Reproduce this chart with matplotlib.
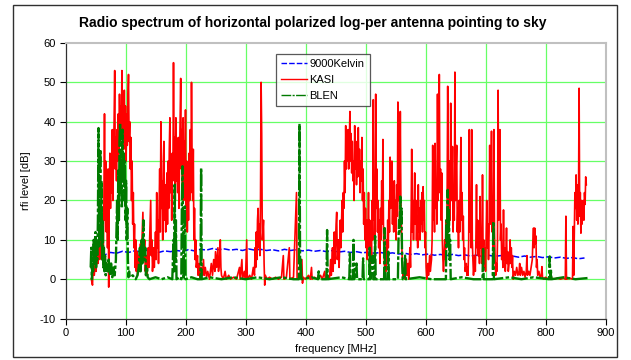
import matplotlib
matplotlib.use("Agg")
import matplotlib.pyplot as plt
from matplotlib.patches import Rectangle

plt.rcParams['font.family'] = ['Liberation Sans', 'DejaVu Sans']
plt.rcParams['axes.unicode_minus'] = False

title = "Radio spectrum of horizontal polarized log-per antenna pointing to sky"
x_label = "frequency [MHz]"
y_label = "rfi level [dB]"
series_names = ["9000Kelvin", "KASI", "BLEN"]
x_ticks = [0, 100, 200, 300, 400, 500, 600, 700, 800, 900]
y_ticks = [-10, 0, 10, 20, 30, 40, 50, 60]

# 9000Kelvin reference (MHz, dB)
kelvin_points = [
    (45, 6.0), (55, 6.4), (65, 6.2), (75, 6.8), (85, 6.6), (95, 7.1), (105, 6.8), (115, 7.2),
    (125, 7.0), (135, 7.4), (145, 7.0), (155, 6.8), (165, 7.2), (175, 7.0), (185, 7.3),
    (195, 7.1), (205, 7.5), (215, 7.2), (225, 7.6), (235, 7.4), (245, 7.8), (255, 7.5),
    (265, 7.7), (275, 7.4), (285, 7.6), (295, 7.3), (305, 7.7), (315, 7.4), (325, 7.6),
    (335, 7.3), (345, 7.5), (355, 7.2), (365, 7.6), (375, 7.3), (385, 7.5), (395, 7.2),
    (405, 7.4), (415, 7.1), (425, 7.3), (435, 7.0), (445, 7.3), (455, 6.9), (465, 7.1),
    (475, 6.8), (485, 7.0), (495, 6.7), (505, 6.9), (515, 6.6), (525, 6.8), (535, 6.5),
    (545, 6.7), (555, 6.4), (565, 6.6), (575, 6.3), (585, 6.5), (595, 6.2), (605, 6.4),
    (615, 6.1), (625, 6.3), (635, 6.0), (645, 6.3), (655, 6.0), (665, 6.2), (675, 5.9),
    (685, 6.1), (695, 5.8), (705, 6.1), (715, 5.8), (725, 6.0), (735, 5.7), (745, 5.9),
    (755, 5.6), (765, 5.9), (775, 5.6), (785, 5.8), (795, 5.5), (805, 5.7), (815, 5.4),
    (825, 5.6), (835, 5.3), (845, 5.5), (855, 5.2), (865, 5.4),
]

# KASI measurement (MHz, dB)
kasi_points = [
    (43, 0), (45, -1.5), (46, 3), (48, 1), (50, 6), (51, 2), (53, 8), (54, 4), (56, 10), (57, 5),
    (59, 12), (60, 17), (61, 8), (62, 14), (63, 6), (64, 20), (65, 42), (66, 15), (67, 30),
    (68, 12), (69, 25), (70, 8), (71, 28), (72, -2), (73, 22), (74, 32), (75, 18), (76, 30),
    (77, 22), (78, 38), (79, 20), (80, 32), (81, 40), (82, 53), (83, 28), (84, 36), (85, 25),
    (86, 38), (87, 30), (88, 42), (89, 32), (90, 47), (91, 35), (92, 44), (93, 36), (94, 53),
    (95, 38), (96, 45), (97, 33), (98, 48), (99, 36), (100, 44), (101, 30), (102, 42), (103, 34),
    (104, 46), (105, 52), (106, 35), (107, 40), (108, 28), (109, 36), (110, 20), (111, 30),
    (112, 14), (113, 22), (114, 8), (115, 14), (116, 3), (117, 10), (118, 2), (119, 7), (120, 1),
    (122, 6), (123, 2), (125, 9), (126, 3), (128, 12), (129, 17), (130, 5), (132, 10), (133, 2),
    (135, 6), (136, 1), (138, 8), (139, 3), (141, 14), (142, 20), (143, 6), (144, 10), (145, 2),
    (147, 8), (148, 3), (150, 12), (151, 5), (152, 22), (153, 8), (154, 15), (155, 4), (156, 18),
    (157, 28), (158, 12), (159, 40), (160, 18), (161, 25), (162, 10), (163, 30), (164, 35),
    (165, 15), (166, 24), (167, 12), (168, 20), (169, 27), (170, 14), (171, 30), (172, 18),
    (173, 33), (174, 41), (175, 22), (176, 30), (177, 15), (178, 32), (179, 25), (180, 55),
    (181, 28), (182, 36), (183, 20), (184, 41), (185, 25), (186, 34), (187, 22), (188, 36),
    (189, 18), (190, 30), (191, 40), (192, 51), (193, 28), (194, 38), (195, 24), (196, 41),
    (197, 20), (198, 35), (199, 26), (200, 43), (201, 18), (202, 30), (203, 12), (204, 25),
    (205, 15), (206, 32), (207, 20), (208, 38), (209, 22), (210, 50), (211, 30), (212, 20),
    (213, 33), (214, 10), (215, 18), (216, 5), (217, 10), (218, 3), (220, 6), (221, 1), (223, 4),
    (224, 0.5), (226, 3), (228, 1), (230, 5), (231, 1), (233, 3), (235, 0.5), (237, 2), (240, 0),
    (243, 4), (245, 1), (247, 5), (249, 2), (250, 7), (252, 3), (254, 8), (255, 2), (257, 5),
    (258, 10), (259, 3), (260, 1), (263, 0), (266, 2), (268, 0), (272, 1), (275, 0), (280, 0.5),
    (285, 0), (290, 3), (291, 0), (294, 5), (295, 0), (298, 2), (300, 0), (302, 10), (303, 0),
    (307, 1), (310, 0), (313, 3), (315, 1), (316, 8), (317, 3), (318, 12), (319, 5), (320, 15),
    (321, 18), (322, 8), (323, 14), (324, 6), (325, 20), (326, 50), (327, 37), (328, 10),
    (329, 12), (330, 15), (331, 4), (332, -1.5), (333, 1), (336, 0), (340, 0.5), (345, 0),
    (350, 0.5), (355, 0), (360, 0.5), (363, 6), (364, 0), (368, 0.3), (373, 8), (374, 0),
    (380, 0.5), (385, 22), (386, 0), (390, 0.5), (394, 5), (395, -1), (396, 0.5), (400, 0),
    (405, 1), (408, 0), (410, 3), (411, 0), (415, 0.5), (420, 0), (425, 1), (428, 0), (432, 2),
    (433, 0), (437, 1), (440, 0), (442, 5), (443, 1), (445, 8), (446, 2), (448, 12), (449, 4),
    (451, 14), (452, 17), (453, 5), (455, 10), (456, 3), (458, 15), (459, 8), (461, 20), (462, 12),
    (463, 22), (464, 18), (465, 30), (466, 22), (467, 39), (468, 28), (469, 36), (470, 30),
    (471, 38), (472, 28), (473, 34), (474, 42.6), (475, 30), (476, 37), (477, 27), (478, 35),
    (479, 25), (480, 30), (481, 20), (482, 39), (483, 28), (484, 35), (485, 24), (486, 32),
    (487, 26), (488, 38.5), (489, 27), (490, 33), (491, 22), (492, 30), (493, 25), (494, 36),
    (495, 20), (496, 28), (497, 14), (498, 22), (499, 10), (500, 18), (501, 8), (502, 15),
    (503, 5), (504, 12), (505, 22), (506, 8), (507, 15), (508, 4), (509, 12), (510, 6), (511, 20),
    (512, 10), (513, 45.6), (514, 15), (515, 25), (516, 10), (517, 47), (518, 18), (519, 28),
    (520, 12), (521, 20), (522, 8), (523, 15), (524, 4), (525, 18), (526, 10), (527, 25),
    (528, 14), (529, 35.5), (530, 12), (531, 6), (532, 3), (533, 8), (534, 2), (535, 10), (536, 4),
    (537, 15), (538, 8), (539, 20), (540, 12), (541, 31), (542, 18), (543, 24), (544, 30),
    (545, 14), (546, 22), (547, 12), (548, 25), (549, 15), (550, 20), (551, 10), (552, 24),
    (553, 16), (554, 45), (555, 20), (556, 30), (557, 15), (558, 42.6), (559, 20), (560, 12),
    (561, 6), (562, 2), (563, 0.5), (565, 3), (566, 0), (568, 5), (569, 1), (571, 4), (572, 0),
    (574, 8), (575, 3), (576, 15), (577, 33), (578, 12), (579, 20), (580, 10), (581, 18),
    (582, 27), (583, 14), (584, 20), (585, 10), (586, 16), (587, 8), (588, 24), (589, 12),
    (590, 18), (591, 10), (592, 20), (593, 14), (594, 22), (595, 12), (596, 23.5), (597, 15),
    (598, 20), (599, 8), (600, 12), (601, 3), (602, 0), (604, 4), (605, 1), (607, 6), (608, 2),
    (610, 5), (611, 10), (612, 34), (613, 15), (614, 22), (615, 12), (616, 34.5), (617, 18),
    (618, 25), (619, 14), (620, 47), (621, 20), (622, 30), (623, 52), (624, 22), (625, 28),
    (626, 15), (627, 27), (628, 10), (629, 5), (630, 2), (631, 6), (632, 10), (633, 5), (634, 15),
    (635, 8), (636, 20), (637, 49), (638, 25), (639, 18), (640, 30), (641, 15), (642, 44.7),
    (643, 20), (644, 25), (645, 33.7), (646, 12), (647, 22), (648, 15), (649, 52.6), (650, 20),
    (651, 28), (652, 34), (653, 12), (654, 18), (655, 8), (656, 20), (657, 12), (658, 25),
    (659, 36), (660, 15), (661, 22), (662, 10), (663, 16), (664, 5), (665, 8), (666, 2), (668, 4),
    (669, 1), (670, 3), (671, 1), (672, 10), (673, 38), (674, 12), (675, 20), (676, 8), (677, 38),
    (678, 10), (679, 5), (680, 1), (682, 6), (683, 2), (684, 10), (685, 24), (686, 8), (687, 15),
    (688, 6), (689, 12), (690, 4), (691, 21), (692, 8), (693, 12), (694, 4), (695, 26.5), (696, 6),
    (697, 10), (698, 3), (699, 8), (700, 2), (701, 10), (702, 20), (703, 8), (704, 14), (705, 5),
    (706, 12), (707, 34), (708, 14), (709, 20), (710, 37.6), (711, 12), (712, 18), (713, 8),
    (714, 38), (715, 12), (716, 5), (717, 1), (718, 4), (719, 2), (720, 10), (721, 48), (722, 15),
    (723, 20), (724, 38), (725, 10), (726, 14), (727, 5), (728, 8), (729, 3), (730, 17.6),
    (731, 5), (732, 8), (733, 2), (734, 6), (735, 13), (736, 4), (737, 7), (738, 2), (740, 5),
    (741, 10), (742, 4), (743, 8), (744, 3), (745, 6), (746, 0), (748, 2), (750, 1), (752, 3),
    (754, 1), (756, 2), (757, 4), (758, 1), (760, 3), (762, 1), (764, 2), (766, 0.5), (768, 2),
    (769, 6), (770, 1), (772, 2), (774, 1), (776, 3), (778, 5), (779, 10), (780, 13), (781, 8),
    (782, 13), (783, 9), (784, 11), (785, 3), (786, 5), (787, 1), (789, 2), (791, 0.5), (793, 1),
    (794, 3.2), (795, 0.5), (797, 0), (800, 0.5), (805, 0), (810, 0.3), (815, 0), (820, 0.3),
    (825, 0), (830, 0.3), (833, 0), (834, 16), (835, 0), (840, 0.3), (845, 0), (846, 13.4),
    (847, 1), (848, 12), (849, 22), (850, 18), (851, 26.5), (852, 15), (853, 24), (854, 14),
    (855, 20), (856, 48.5), (857, 16), (858, 22), (859, 11.7), (860, 20), (861, 14), (862, 18),
    (863, 20), (864, 15), (865, 22), (866, 19), (867, 26), (868, 24),
]

# BLEN measurement (MHz, dB)
blen_points = [
    (42, 3), (43, 8), (44, 0), (45, 5), (46, 2), (47, 10), (48, 4), (49, 8), (50, 12), (51, 3),
    (52, 9), (53, 5), (54, 15), (55, 38.4), (56, 8), (57, 20), (58, 33), (59, 10), (60, 25),
    (61, 5), (62, 15), (63, 3), (64, 8), (65, 2), (66, 6), (67, 1), (68, 4), (70, 2), (72, 5),
    (74, 1), (76, 4), (78, 0.5), (80, 3), (82, 1), (84, 5), (85, 12), (86, 20), (87, 10),
    (88, 28), (89, 15), (90, 35), (91, 39.7), (92, 22), (93, 30), (94, 18), (95, 38), (96, 25),
    (97, 32), (98, 20), (99, 30), (100, 15), (101, 25), (102, 10), (103, 18), (104, 5),
    (105, 0.5), (106, 2), (107, 0.5), (112, 1), (117, 0), (120, 1), (122, 3), (124, 8), (125, 2),
    (127, 10), (128, 4), (130, 15), (131, 5), (133, 8), (134, 1), (136, 3), (137, 0.5), (140, 0),
    (150, 0.5), (160, 0), (170, 0.5), (178, 0), (180, 10), (181, 2), (182, 24), (183, 5),
    (184, 15), (185, 0), (190, 0.5), (193, 0), (194, 20), (195, 28.7), (196, 10), (197, 0),
    (199, 18.5), (200, 0), (210, 0.5), (220, 0), (225, 0), (226, 28.3), (227, 0), (240, 0.5),
    (260, 0), (280, 0.5), (300, 0), (320, 0.5), (340, 0), (360, 0.5), (380, 0), (389, 0),
    (390, 39.5), (391, 3), (392, 5), (393, 0), (410, 0.5), (421, 0), (422, 2), (423, 0),
    (435, 0), (436, 12.5), (437, 0), (460, 0.5), (473, 0), (474, 6.6), (475, 0), (479, 0),
    (480, 10), (481, 0), (485, 4), (486, 0), (495, 0), (496, 5.3), (497, 0), (506, 0), (507, 8),
    (508, 0), (512, 6), (513, 0), (515, 0), (516, 11), (517, 0), (531, 0), (532, 13), (533, 0),
    (537, 0), (538, 7), (539, 0), (554, 0), (555, 10), (556, 15), (557, 12), (558, 21),
    (559, 14), (560, 18), (561, 5), (562, 0), (565, 0), (566, 6), (567, 0), (590, 0.5), (610, 0),
    (634, 0), (635, 15), (636, 8), (637, 22.7), (638, 12), (639, 18), (640, 5), (641, 10),
    (642, 0), (660, 0.5), (680, 0), (695, 0), (696, 8), (697, 0), (712, 0), (713, 14.7),
    (714, 0), (740, 0.5), (760, 0), (780, 0.5), (806, 0), (807, 5.8), (808, 0), (809, 2.4),
    (810, 0), (830, 0.5), (850, 0), (870, 0.3),
]

kelvin_mhz, kelvin_db = zip(*kelvin_points)
kasi_mhz, kasi_db = zip(*kasi_points)
blen_mhz, blen_db = zip(*blen_points)

W, H = 631, 360
fig = plt.figure(figsize=(W / 100, H / 100), dpi=100)
fig.patch.set_facecolor('white')
fig.patches.append(Rectangle((13 / W, 3 / H), (617 - 13) / W, (356 - 4) / H,
                             transform=fig.transFigure, fill=False,
                             edgecolor='#303030', lw=1.0))

ax = fig.add_axes([65.5 / W, 1 - 318.6 / H, 540 / W, 275.6 / H])
ax.set_xlim(0, 900)
ax.set_ylim(-10, 60)
ax.set_xticks(x_ticks)
ax.set_yticks(y_ticks)

for xv in x_ticks[1:-1]:
    ax.axvline(xv, color='#66ff66', lw=0.9, zorder=0)
for yv in y_ticks[1:-1]:
    ax.axhline(yv, color='#66ff66', lw=0.9, zorder=0)

ax.plot(kelvin_mhz, kelvin_db, color='#0000ff', lw=1.1, ls=(0, (4, 1.5)), label=series_names[0], zorder=2)
ax.plot(kasi_mhz, kasi_db, color='#ff0000', lw=1.2, ls='-', label=series_names[1], zorder=3)
ax.plot(blen_mhz, blen_db, color='#007a00', lw=1.7, ls=(0, (7, 1, 1.5, 1)), label=series_names[2], zorder=4)

for s in ['top', 'right']:
    ax.spines[s].set_color('#c0c0c0')
    ax.spines[s].set_linewidth(1.5)
for s in ['left', 'bottom']:
    ax.spines[s].set_color('#303030')
    ax.spines[s].set_linewidth(0.9)

ax.tick_params(axis='both', direction='out', length=4, width=0.8, labelsize=8, colors='black', pad=3)

ax.set_xlabel(x_label, fontsize=8, labelpad=4)
ax.set_ylabel(y_label, fontsize=8, labelpad=6)
fig.text(0.495, 1 - 23 / H, title, ha='center', va='center', fontsize=10, fontweight='bold')

leg = ax.legend(loc='upper left', bbox_to_anchor=((275.7 - 65.5) / 540, 1 - (54 - 43) / 275.6),
                fontsize=8, frameon=True, fancybox=False, shadow=False, borderpad=0.45,
                handlelength=2.4, handletextpad=0.2, labelspacing=0.55, borderaxespad=0)
leg.get_frame().set_edgecolor('#303030')
leg.get_frame().set_linewidth(0.9)
for line in leg.get_lines():
    line.set_linewidth(1.0)

fig.savefig('out.png', dpi=100)
